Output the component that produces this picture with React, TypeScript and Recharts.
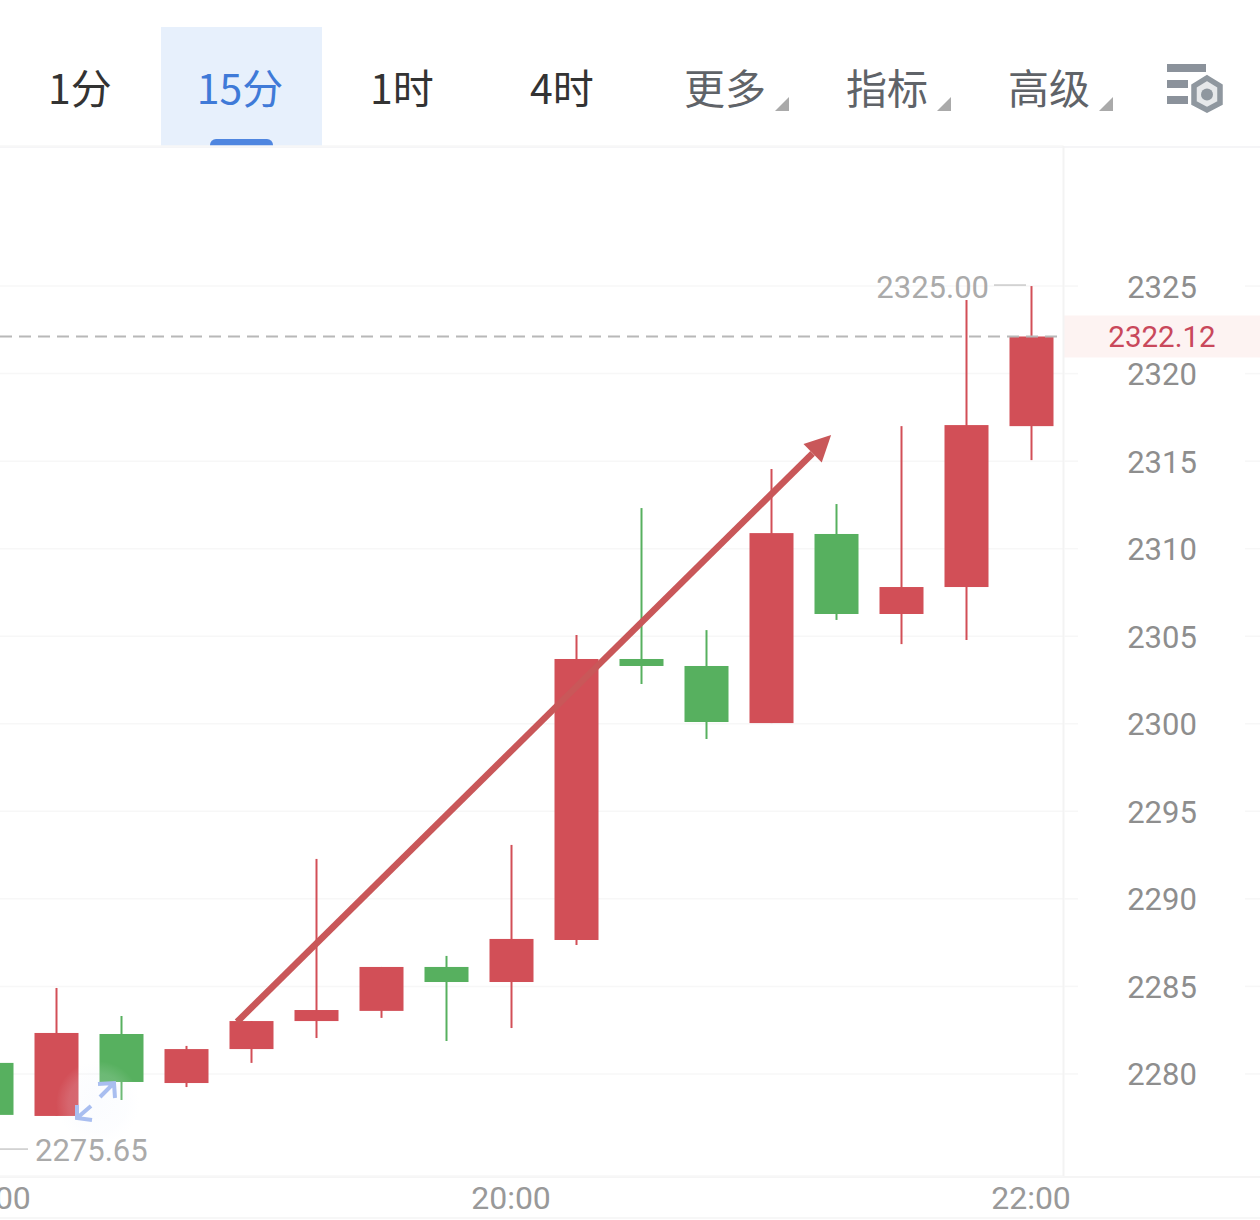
import { Bar, CartesianGrid, ComposedChart, ReferenceDot, ReferenceLine, XAxis, YAxis } from "recharts";

const times = ["18:00", "18:15", "18:30", "18:45", "19:00", "19:15", "19:30", "19:45", "20:00", "20:15", "20:30", "20:45", "21:00", "21:15", "21:30", "21:45", "22:00"];
const opens = [2280.63, 2277.6, 2282.28, 2279.48, 2281.42, 2283.02, 2283.6, 2286.11, 2285.25, 2287.65, 2303.7, 2303.3, 2300.04, 2310.84, 2306.27, 2307.81, 2317.0];
const closes = [2277.66, 2282.34, 2279.54, 2281.42, 2283.02, 2283.65, 2286.11, 2285.25, 2287.71, 2303.7, 2303.3, 2300.1, 2310.89, 2306.27, 2307.81, 2317.06, 2322.12];
const highs = [2280.63, 2284.91, 2283.31, 2281.6, 2283.02, 2292.28, 2286.11, 2286.74, 2293.08, 2305.07, 2312.32, 2305.35, 2314.55, 2312.55, 2317.0, 2324.2, 2325.0];
const lows = [2275.65, 2277.6, 2278.51, 2279.25, 2280.63, 2282.05, 2283.2, 2281.88, 2282.62, 2287.36, 2302.27, 2299.13, 2300.04, 2305.93, 2304.55, 2304.78, 2315.06];

const priceTicks = [2280, 2285, 2290, 2295, 2300, 2305, 2310, 2315, 2320, 2325];
const timeTicks = ["18:00", "20:00", "22:00"];
const lastPrice = 2322.12;
const arrowFrom = { x: 4.033, y: 2282.97 };
const arrowTo = { x: 12.635, y: 2316.49 };

const periodTabs = ["1分", "15分", "1时", "4时"];
const tabCenters = [80, 240, 402, 562];
const menuTabs = ["更多", "指标", "高级"];
const menuCenters = [725, 887, 1049];

const UP = "#d24f57";
const DOWN = "#57b05f";
const GRID = "#f7f7f7";
const NUM_FONT = "Roboto, sans-serif";
const CJK_FONT = '"Noto Sans CJK SC", sans-serif';

const rows = times.map((time, i) => ({
  time,
  open: opens[i],
  close: closes[i],
  high: highs[i],
  low: lows[i],
  range: [lows[i], highs[i]],
}));

function Candle(props: any) {
  const { x, y, width, height, payload } = props;
  const perUnit = height / (payload.high - payload.low);
  const color = payload.close >= payload.open ? UP : DOWN;
  const top = y + (payload.high - Math.max(payload.open, payload.close)) * perUnit;
  const bodyH = Math.abs(payload.open - payload.close) * perUnit;
  return (
    <g>
      <line x1={x + width / 2} x2={x + width / 2} y1={y} y2={y + height} stroke={color} strokeWidth={2} />
      <rect x={x} y={top} width={width} height={bodyH} fill={color} />
    </g>
  );
}

function PriceTick(props: any) {
  const { y, payload } = props;
  return (
    <g>
      <line x1={1064} x2={1078} y1={y} y2={y} stroke={GRID} strokeWidth={1.5} />
      <line x1={1245} x2={1260} y1={y} y2={y} stroke={GRID} strokeWidth={1.5} />
      <text x={1162} y={y + 1} textAnchor="middle" dominantBaseline="central" fontFamily={NUM_FONT} fontSize={31} fill="#8e8e8e">
        {payload.value}
      </text>
    </g>
  );
}

function TimeTick(props: any) {
  const { x, payload } = props;
  return (
    <text x={x} y={1198} textAnchor="middle" dominantBaseline="central" fontFamily={NUM_FONT} fontSize={32} fill="#999">
      {payload.value}
    </text>
  );
}

function LastPriceLine(props: any) {
  const { x1, x2, y1 } = props;
  const right = Math.max(x1, x2);
  return (
    <g>
      <line x1={0} x2={right} y1={y1} y2={y1} stroke="#b8b8b8" strokeWidth={2} strokeDasharray="12 7" />
      <rect x={right} y={y1 - 21} width={197} height={42} fill="#fdf3f2" />
      <text x={1162} y={y1 + 1} textAnchor="middle" dominantBaseline="central" fontFamily={NUM_FONT} fontSize={29.5} fill="#c9485b">
        {lastPrice.toFixed(2)}
      </text>
    </g>
  );
}

function ArrowLine(props: any) {
  const { x1, y1, x2, y2 } = props;
  const angle = Math.atan2(y2 - y1, x2 - x1);
  const headLen = 26;
  const headHalf = 13;
  const bx = x2 - headLen * Math.cos(angle);
  const by = y2 - headLen * Math.sin(angle);
  const nx = -Math.sin(angle) * headHalf;
  const ny = Math.cos(angle) * headHalf;
  return (
    <g>
      <line x1={x1} y1={y1} x2={bx} y2={by} stroke="#c95759" strokeWidth={6.5} />
      <polygon points={`${x2},${y2} ${bx + nx},${by + ny} ${bx - nx},${by - ny}`} fill="#c95759" />
    </g>
  );
}

function ExtremeLabel(props: any) {
  const { cx, cy, side, value } = props;
  const isLeft = side === "left";
  const dir = isLeft ? -1 : 1;
  return (
    <g>
      <line x1={cx + dir * 5} x2={cx + dir * 37} y1={cy - 1} y2={cy - 1} stroke="#c9c9c9" strokeWidth={1.5} />
      <text
        x={cx + dir * (isLeft ? 42 : 44)}
        y={isLeft ? cy + 1 : cy}
        textAnchor={isLeft ? "end" : "start"}
        dominantBaseline="central"
        fontFamily={NUM_FONT}
        fontSize={31}
        fill="#aaaaaa"
      >
        {value.toFixed(2)}
      </text>
    </g>
  );
}

function Toolbar() {
  const label = (text: string, center: number, color: string) => (
    <div
      key={text}
      style={{
        position: "absolute",
        left: center - 80,
        width: 160,
        top: 56,
        height: 60,
        lineHeight: "60px",
        textAlign: "center",
        fontFamily: CJK_FONT,
        fontSize: 41,
        color,
      }}
    >
      {text}
    </div>
  );
  return (
    <>
      <div style={{ position: "absolute", left: 161, top: 27, width: 161, height: 119, background: "#e7f0fc" }} />
      <div style={{ position: "absolute", left: 210, top: 139, width: 63, height: 7, background: "#4f86e0", borderRadius: "6px 6px 0 0" }} />
      {periodTabs.map((t, i) => label(t, tabCenters[i], t === "15分" ? "#3f7ad8" : "#333333"))}
      {menuTabs.map((t, i) => label(t, menuCenters[i], "#5f6368"))}
      <svg width={1260} height={146} style={{ position: "absolute", left: 0, top: 0 }}>
        {menuCenters.map((c) => (
          <polygon key={c} points={`${c + 64},${97} ${c + 64},${111} ${c + 50},${111}`} fill="#aaaaaa" />
        ))}
        <rect x={1167} y={64} width={39} height={8} fill="#8b929b" />
        <rect x={1167} y={80} width={21} height={8} fill="#8b929b" />
        <rect x={1167} y={96} width={21} height={8} fill="#8b929b" />
        <polygon points="1207,78 1220,86 1220,103 1207,110 1194,103 1194,86" fill="#e6e8ea" stroke="#8f979f" strokeWidth={5.5} />
        <circle cx={1207} cy={94.5} r={6} fill="#8f979f" />
      </svg>
    </>
  );
}

export default function App() {
  return (
    <div style={{ position: "absolute", left: 0, top: 0, width: 1260, height: 1220, background: "#fff", overflow: "hidden" }}>
      <Toolbar />
      <div style={{ position: "absolute", left: 0, top: 146, width: 1260, height: 2, background: "#f5f5f7" }} />
      <div style={{ position: "absolute", left: 0, top: 1176, width: 1260, height: 2, background: "#f5f5f5" }} />
      <div style={{ position: "absolute", left: 0, top: 1217, width: 1260, height: 2, background: "#f7f7f7" }} />
      <div style={{ position: "absolute", left: 0, top: 0 }}>
        <ComposedChart width={1260} height={1220} data={rows} margin={{ top: 146, right: 0, bottom: 0, left: -41.5 }}>
          <CartesianGrid vertical={false} stroke={GRID} strokeWidth={1.5} />
          <XAxis dataKey="time" ticks={timeTicks} interval={0} height={44} axisLine={false} tickLine={false} tick={<TimeTick />} />
          <XAxis xAxisId="frac" type="number" domain={[0, 16]} allowDataOverflow hide />
          <YAxis
            orientation="right"
            width={196.5}
            domain={[2274.17, 2333]}
            ticks={priceTicks}
            interval={0}
            allowDataOverflow
            axisLine={{ stroke: "#f3f3f3", strokeWidth: 2 }}
            tickLine={false}
            tick={<PriceTick />}
          />
          <ReferenceLine y={lastPrice} shape={<LastPriceLine />} />
          <Bar dataKey="range" barSize={44} isAnimationActive={false} shape={<Candle />} />
          <ReferenceDot x={times[16]} y={highs[16]} shape={<ExtremeLabel side="left" value={highs[16]} />} />
          <ReferenceDot x={times[0]} y={lows[0]} shape={<ExtremeLabel side="right" value={lows[0]} />} />
          <ReferenceLine xAxisId="frac" segment={[arrowFrom, arrowTo]} shape={<ArrowLine />} />
        </ComposedChart>
      </div>
      <svg width={160} height={100} style={{ position: "absolute", left: 30, top: 1060 }}>
        <defs>
          <radialGradient id="expandGlow">
            <stop offset="0%" stopColor="#e9effd" stopOpacity={0.2} />
            <stop offset="70%" stopColor="#eef3fd" stopOpacity={0.14} />
            <stop offset="100%" stopColor="#f4f7fe" stopOpacity={0} />
          </radialGradient>
        </defs>
        <circle cx={68} cy={43} r={42} fill="url(#expandGlow)" />
        <g fill="none" stroke="#a9bef0" strokeWidth={4}>
          <path d="M68 24 L84 23 L85 38 M84 23 L70 37" />
          <path d="M47 45 L47 58 L62 60 M47 58 L61 46" />
        </g>
      </svg>
    </div>
  );
}
